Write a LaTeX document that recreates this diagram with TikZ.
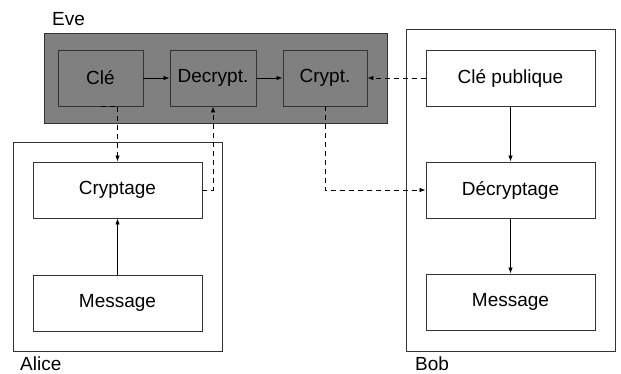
\documentclass[tikz,border=0pt]{standalone}
\usepackage{fontspec}
\setmainfont{Liberation Sans}
\usetikzlibrary{arrows.meta}
\definecolor{linec}{HTML}{333333}
\definecolor{evefill}{HTML}{808080}
\tikzset{
  box/.style={draw=linec, line width=0.9pt, minimum height=56pt, inner sep=0pt, font=\fontsize{19}{22}\selectfont},
  wbox/.style={box, fill=white, minimum width=169pt},
  ebox/.style={box, fill=evefill},
  group/.style={draw=linec, line width=0.9pt},
  lbl/.style={anchor=west, inner sep=0pt, font=\fontsize{19}{22}\selectfont},
  arr/.style={draw=black, line width=0.8pt, -{Latex[length=6pt,width=4.5pt]}},
  darr/.style={arr, dash pattern=on 5pt off 4pt}
}
\begin{document}
\begin{tikzpicture}[x=1pt, y=-1pt]
\useasboundingbox (0,0) rectangle (621,374);
% group frames
\draw[group, fill=evefill] (44,33) rectangle (387,123);
\draw[group, fill=white] (13,142) rectangle (222,351);
\draw[group, fill=white] (406,29) rectangle (615,351);
\node[lbl] (eve) at (52,19) {Eve};
\node[lbl] (alice) at (20,363.5) {Alice};
\node[lbl] (bob) at (415,363.5) {Bob};
% Eve
\node[ebox, minimum width=85pt] (cle) at (100.5,78) {Clé};
\node[ebox, minimum width=86pt] (dec) at (213,78) {Decrypt.};
\node[ebox, minimum width=84pt] (cry) at (325,78) {Crypt.};
% Alice
\node[wbox] (acry) at (117.5,190) {Cryptage};
\node[wbox] (amsg) at (117.5,303) {Message};
% Bob
\node[wbox] (bpub) at (510.5,78) {Clé publique};
\node[wbox] (bdec) at (510.5,190) {Décryptage};
\node[wbox] (bmsg) at (510.5,302) {Message};
% solid arrows
\draw[arr] (cle) -- (dec);
\draw[arr] (dec) -- (cry);
\draw[arr] (amsg) -- (acry);
\draw[arr] (bpub) -- (bdec);
\draw[arr] (bdec) -- (bmsg);
% dashed arrows
\draw[darr] (bpub) -- (cry);
\draw[darr] (cle.south) -- (cle.south -| acry.north) -- (acry.north);
\draw[darr] (acry.east) -| (dec.south);
\draw[darr] (cry.south) |- (bdec.west);
\end{tikzpicture}
\end{document}
